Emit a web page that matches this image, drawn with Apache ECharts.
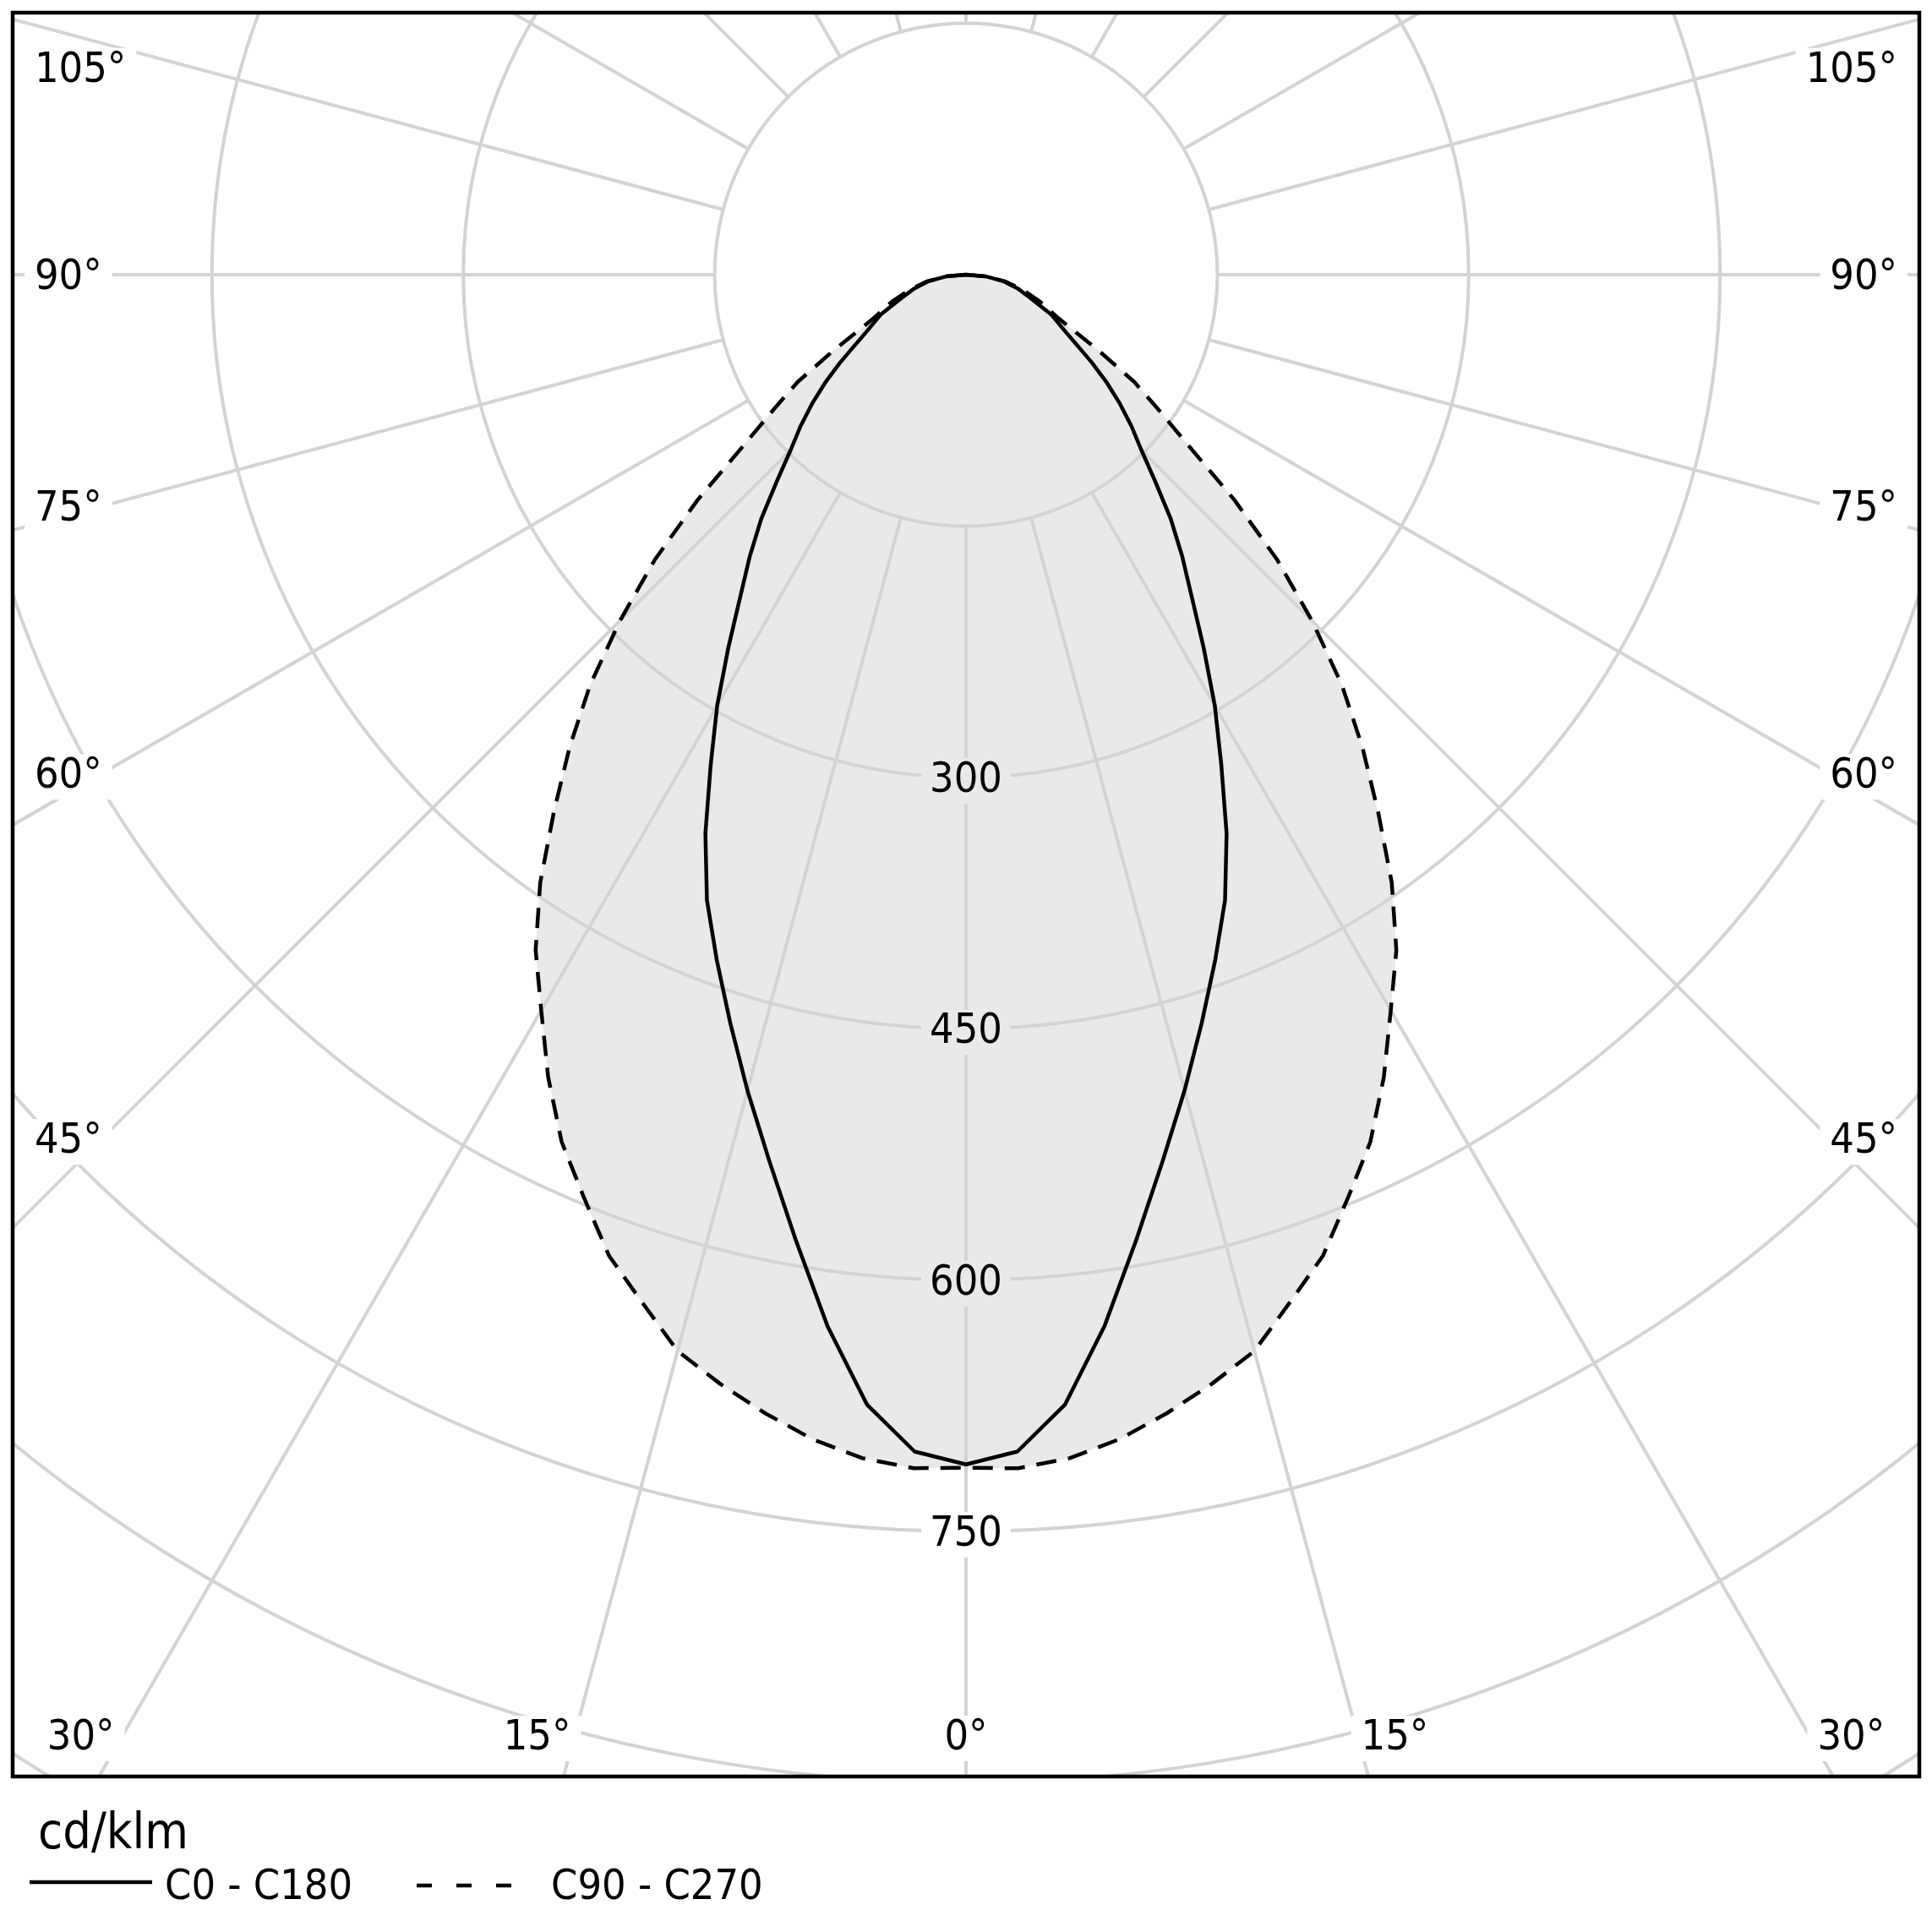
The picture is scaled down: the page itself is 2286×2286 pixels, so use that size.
<!DOCTYPE html>
<html lang="en">
<head>
<meta charset="utf-8">
<title>Polar intensity diagram</title>
<style>
html, body { margin: 0; padding: 0; background: #fff; }
#chart { width: 2286px; height: 2286px; }
</style>
</head>
<body>
<div id="chart"></div>
<script src="https://cdn.jsdelivr.net/npm/echarts@6/dist/echarts.min.js"></script>
<script>
// gamma angle from nadir (deg); both halves of each plane are symmetric
const GAMMA = [0, 2.5, 5, 7.5, 10, 12.5, 15, 17.5, 20, 22.5, 25, 27.5, 30, 32.5, 35, 37.5, 40, 42.5, 45, 47.5, 50, 52.5, 55, 57.5, 60, 65, 70, 75, 80, 85, 90];
const C0_C180 = [710, 703, 677, 633, 585, 542, 504, 468, 435, 404, 368, 330, 297, 264, 235, 212, 190, 167, 148, 134, 120, 106, 92, 79, 69, 56, 41, 32, 23, 12, 0];
const C90_C270 = [712, 713, 709, 701, 690, 678, 665, 643, 623, 596, 571, 540, 507, 478, 443, 404, 368, 332, 292, 252, 209, 167, 140, 119, 93, 60, 47, 35, 24, 12, 0];
const SERIES_NAMES = ['C0 - C180', 'C90 - C270'];
const UNIT = 'cd/klm';
const RING_LABELS = [300, 450, 600, 750];
const ANGLE_LABELS = [0, 15, 30, 45, 60, 75, 90, 105];
const SPOKES = [0, 15, 30, 45, 60, 75, 90, 105, 120, 135, 150, 165, 180, 195, 210, 225, 240, 255, 270, 285, 300, 315, 330, 345];

// layout
const CX = 1143, CY = 325;
const RING_STEP = 150, R_MAX = 1200;
const PX_PER_UNIT = 297.4 / RING_STEP;
const FRAME = { left: 15, top: 15, right: 2271, bottom: 2102 };
const FONT = '"DejaVu Sans Condensed", "Noto Sans", sans-serif';
const LABEL_FONT = '50px ' + FONT;
const GRID_COLOR = '#d3d3d3';
const FILL_COLOR = '#e9e9e9';

// left half (C180 / C270) from 90 down to 0, then right half (C0 / C90) back up to 90
function closedCurve(values) {
  const n = GAMMA.length;
  const left = [];
  for (let i = n - 1; i >= 0; i--) left.push([values[i], 360 - GAMMA[i]]);
  const right = [];
  for (let i = 1; i < n; i++) right.push([values[i], GAMMA[i]]);
  return left.concat(right);
}

var measureCtx = document.createElement('canvas').getContext('2d');
function textWidth(text, font) {
  measureCtx.font = font;
  return measureCtx.measureText(text).width;
}

// angle labels sit inside the frame, their inner edge on the ray
function angleLabels() {
  const out = [];
  const xIn = 26, yIn = 32, pad = 12;
  ANGLE_LABELS.forEach(function (g) {
    const text = g + '°';
    const w = textWidth(text, LABEL_FONT);
    const sides = g === 0 ? [0] : [-1, 1];
    sides.forEach(function (s) {
      const rad = g * Math.PI / 180;
      const dx = Math.sin(rad) * (s < 0 ? -1 : 1);
      const dy = Math.cos(rad);
      const outer = s < 0 ? FRAME.left + xIn : FRAME.right - xIn;
      const inner = s < 0 ? outer + w : outer - w;
      const yEdge = FRAME.bottom - yIn;
      const tSide = s === 0 ? Infinity : (inner - CX) / dx;
      const tBottom = dy > 1e-6 ? (yEdge - CY) / dy : Infinity;
      let x, y, align, vAlign;
      if (tSide < tBottom) {
        x = outer + (s < 0 ? -pad : pad);
        align = s < 0 ? 'left' : 'right';
        if (g > 90) {
          y = CY + dy * tSide - 2;
          vAlign = 'top';
        } else {
          y = CY + dy * tSide + 4;
          vAlign = 'middle';
        }
      } else {
        x = CX + dx * tBottom + (s === 0 ? 0 : (s < 0 ? pad : -pad));
        y = yEdge + 14;
        align = s === 0 ? 'center' : (s < 0 ? 'right' : 'left');
        vAlign = 'bottom';
      }
      out.push({
        type: 'text', x: x, y: y, z: 60,
        style: {
          text: text, font: LABEL_FONT, fill: '#000',
          align: align, verticalAlign: vAlign,
          backgroundColor: '#fff', padding: [2, pad]
        }
      });
    });
  });
  return out;
}

function frameAndMasks() {
  const W = 2286, H = 2286;
  const mask = function (x, y, w, h) {
    return { type: 'rect', z: 50, silent: true, shape: { x: x, y: y, width: w, height: h }, style: { fill: '#fff' } };
  };
  return [
    mask(0, 0, W, FRAME.top),
    mask(0, 0, FRAME.left, H),
    mask(FRAME.right, 0, W - FRAME.right, H),
    mask(0, FRAME.bottom, W, H - FRAME.bottom),
    {
      type: 'rect', z: 60, silent: true,
      shape: { x: FRAME.left, y: FRAME.top, width: FRAME.right - FRAME.left, height: FRAME.bottom - FRAME.top },
      style: { fill: 'none', stroke: '#000', lineWidth: 4.5 }
    }
  ];
}

function legend() {
  const font = '50px ' + FONT;
  return [
    { type: 'text', z: 60, x: 45, y: 2172, style: { text: UNIT, font: '59px ' + FONT, fill: '#000', verticalAlign: 'middle' } },
    { type: 'line', z: 60, shape: { x1: 35, y1: 2227, x2: 180, y2: 2227 }, style: { stroke: '#000', lineWidth: 4.5 } },
    { type: 'text', z: 60, x: 195, y: 2234, style: { text: SERIES_NAMES[0], font: font, fill: '#000', verticalAlign: 'middle' } },
    { type: 'line', z: 60, shape: { x1: 493, y1: 2231, x2: 605, y2: 2231 }, style: { stroke: '#000', lineWidth: 4.5, lineDash: [18, 29] } },
    { type: 'text', z: 60, x: 652, y: 2234, style: { text: SERIES_NAMES[1], font: font, fill: '#000', verticalAlign: 'middle' } }
  ];
}

var chart = echarts.init(document.getElementById('chart'), null, { renderer: 'canvas' });
chart.setOption({
  animation: false,
  backgroundColor: '#fff',
  polar: { center: [CX, CY], radius: R_MAX * PX_PER_UNIT },
  angleAxis: {
    type: 'value', min: 0, max: 360, interval: 15,
    startAngle: 270, clockwise: false, z: 0,
    axisLine: { show: false }, axisTick: { show: false },
    axisLabel: { show: false }, splitLine: { show: false }
  },
  radiusAxis: {
    type: 'value', min: 0, max: R_MAX, interval: RING_STEP, z: 2,
    axisLine: { show: false }, axisTick: { show: false }, axisLabel: { show: false },
    splitLine: { show: true, lineStyle: { color: GRID_COLOR, width: 4 } }
  },
  series: [
    {
      // grey area under the wider plane
      type: 'custom', coordinateSystem: 'polar', z: 1, silent: true,
      data: [[0, 0]],
      renderItem: function (params, api) {
        return {
          type: 'polygon',
          shape: { points: closedCurve(C90_C270).map(function (p) { return api.coord(p); }) },
          style: { fill: FILL_COLOR }
        };
      }
    },
    {
      // radial grid lines, starting at the first ring
      type: 'custom', coordinateSystem: 'polar', z: 2, silent: true,
      data: SPOKES.map(function (a) { return [RING_STEP, a]; }),
      renderItem: function (params, api) {
        var a = api.value(1);
        var p0 = api.coord([RING_STEP, a]);
        var p1 = api.coord([R_MAX, a]);
        return {
          type: 'line',
          shape: { x1: p0[0], y1: p0[1], x2: p1[0], y2: p1[1] },
          style: { stroke: GRID_COLOR, lineWidth: 4 }
        };
      }
    },
    {
      name: SERIES_NAMES[0], type: 'line', coordinateSystem: 'polar', z: 4,
      data: closedCurve(C0_C180), symbol: 'none', showSymbol: false, smooth: false,
      lineStyle: { color: '#000', width: 4.5, type: 'solid' }
    },
    {
      name: SERIES_NAMES[1], type: 'line', coordinateSystem: 'polar', z: 4,
      data: closedCurve(C90_C270), symbol: 'none', showSymbol: false, smooth: false,
      lineStyle: { color: '#000', width: 4.5, type: [24, 14] }
    },
    {
      // ring values along the nadir line
      type: 'scatter', coordinateSystem: 'polar', z: 5, silent: true,
      symbolSize: 1, itemStyle: { color: 'rgba(0,0,0,0)' },
      data: RING_LABELS.map(function (v) {
        return { value: [v, 0], label: { backgroundColor: v < C90_C270[0] ? FILL_COLOR : '#fff' } };
      }),
      label: {
        show: true, position: 'inside', color: '#000', opacity: 1,
        textBorderWidth: 0, offset: [0, 4],
        fontFamily: FONT, fontSize: 50, padding: [2, 10],
        formatter: function (p) { return String(p.value[0]); }
      }
    }
  ],
  graphic: frameAndMasks().concat(angleLabels(), legend())
});
</script>
</body>
</html>
